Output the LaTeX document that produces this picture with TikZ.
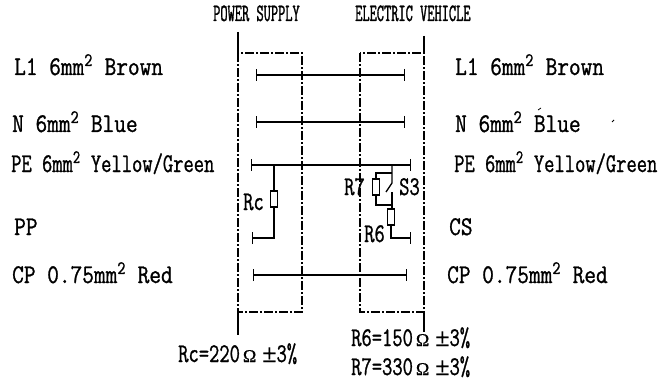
\documentclass[tikz,border=0pt]{standalone}
\usepackage{fontspec}
\usetikzlibrary{arrows.meta}
\newfontfamily\labfont[FakeStretch=0.84,FakeBold=1]{Latin Modern Mono}
\newfontfamily\valfont[FakeStretch=0.74,FakeBold=1]{Latin Modern Mono}
\newfontfamily\headfont[FakeStretch=0.56,FakeBold=1.2]{Latin Modern Mono}
\newfontfamily\symfont[FakeBold=0.5]{Liberation Serif}
\newcommand{\ohmpm}{{\symfont\fontsize{18}{18}\selectfont\hspace{3pt}Ω\hspace{6pt}\fontsize{26}{26}\selectfont±}}
\tikzset{
  lab/.style={anchor=base west,inner sep=0pt,font=\labfont\fontsize{27}{27}\selectfont},
  val/.style={anchor=base west,inner sep=0pt,font=\valfont\fontsize{27}{27}\selectfont},
  head/.style={anchor=base west,inner sep=0pt,font=\headfont\fontsize{25}{25}\selectfont},
  housing/.style={line width=1.3pt,dash pattern=on 9pt off 2pt on 2pt off 2pt},
  lead/.style={line width=1.3pt},
  wire/.style={line width=1.2pt,{Bar[width=12pt]}-{Bar[width=12pt]}},
  stub/.style={line width=1.2pt,-{Bar[width=12pt]}},
  res/.style={draw,line width=1.1pt,inner sep=0pt,minimum width=7pt,minimum height=16pt}
}
\begin{document}
\begin{tikzpicture}[x=1pt,y=-1pt]
\useasboundingbox (0,0) rectangle (663,382);
% headings
\node[head] (supply) at (213,21) {POWER SUPPLY};
\node[head] (vehicle) at (355,21) {ELECTRIC VEHICLE};
% left column
\node[lab] (lone) at (14,75) {L1 6mm\textsuperscript{2} Brown};
\node[lab] (nl) at (12,132) {N 6mm\textsuperscript{2} Blue};
\node[val] (pel) at (11,172) {PE 6mm\textsuperscript{2} Yellow/Green};
\node[lab] (pp) at (14,235) {PP};
\node[lab] (cpl) at (12,283) {CP 0.75mm\textsuperscript{2} Red};
% right column
\node[lab] (ltwo) at (455,75) {L1 6mm\textsuperscript{2} Brown};
\node[lab] (nr) at (455,132) {N 6mm\textsuperscript{2} Blue};
\node[val] (per) at (454,172) {PE 6mm\textsuperscript{2} Yellow/Green};
\node[lab] (cs) at (449,235) {CS};
\node[lab] (cpr) at (447,283) {CP 0.75mm\textsuperscript{2} Red};
% housings
\coordinate (pa) at (238,53);
\coordinate (pb) at (302,312);
\coordinate (va) at (360,53);
\coordinate (vb) at (424,312);
\draw[housing] (pa) rectangle (pb);
\draw[housing] (va) rectangle (vb);
\draw[lead] (238,32) -- (pa);
\draw[lead] (238,312) -- (238,335);
\draw[lead] (424,36) -- (424,53);
\draw[lead] (vb) -- (424,332);
% straight wires
\foreach \nm/\xa/\xb/\yy in {lw/256/405/75,nw/256/405/122,pw/251/411/165,cw/253/407/275}{
  \coordinate (\nm a) at (\xa,\yy);
  \coordinate (\nm b) at (\xb,\yy);
  \draw[wire] (\nm a) -- (\nm b);
}
% power supply side
\coordinate (rctop) at (274,165);
\coordinate (rcend) at (252,238);
\node[res] (rc) at (274,199) {};
\draw[lead] (rctop) -- (rc.north);
\draw[stub] (rc.south) |- (rcend);
\node[val] (rclab) at (243,210) {Rc};
% vehicle side
\coordinate (jt) at (392,165);
\coordinate (jb) at (392,173);
\coordinate (ja) at (376,173);
\coordinate (sa) at (392,183);
\coordinate (sb) at (386,192);
\coordinate (sc) at (392,192);
\coordinate (jc) at (392,205);
\coordinate (rsevenend) at (411,238);
\node[res] (rseven) at (376,187) {};
\node[res] (rsix) at (391,217) {};
\draw[lead] (jt) -- (sa) -- (sb);
\draw[lead] (sc) -- (jc);
\draw[lead] (jb) -- (ja) -- (rseven.north);
\draw[lead] (rseven.south) |- (jc);
\draw[lead] (jc) -- (rsix.north -| jc);
\draw[stub] (rsix.south) |- (rsevenend);
\node[val] (rsevenlab) at (344,195) {R7};
\node[val] (sthree) at (399,195) {S3};
\node[val] (rsixlab) at (364,242) {R6};
% values
\node[val] (rcval) at (178,362) {Rc=220\ohmpm{}3\%};
\node[val] (rsixval) at (351,346) {R6=150\ohmpm{}3\%};
\node[val] (rsevenval) at (351,375) {R7=330\ohmpm{}3\%};
% specks
\draw[line width=0.9pt] (612,122) -- (614,120);
\draw[line width=0.8pt] (538,110) -- (541,108);
\end{tikzpicture}
\end{document}
